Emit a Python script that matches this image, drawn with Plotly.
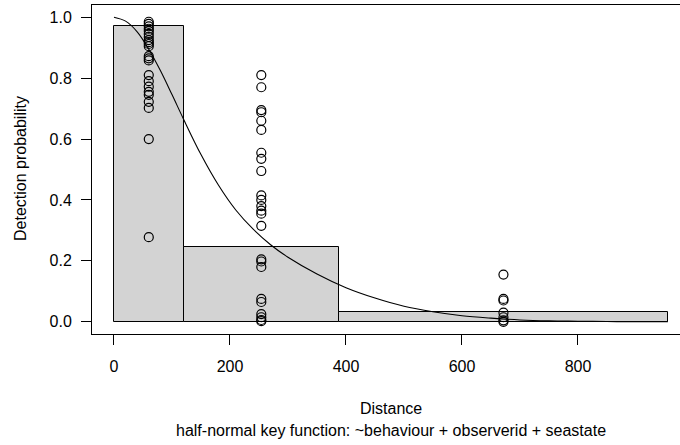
import plotly.graph_objects as go

# ---- data ----
bin_edges = [0, 120, 388, 955]
bar_heights = [0.97, 0.246, 0.033]

p_bin1 = [0.985, 0.978, 0.97, 0.962, 0.955, 0.945, 0.935, 0.925, 0.918, 0.912, 0.905,
          0.872, 0.865, 0.858, 0.81, 0.79, 0.772, 0.755, 0.745, 0.722, 0.702, 0.6, 0.278]
p_bin2 = [0.81, 0.77, 0.695, 0.688, 0.66, 0.63, 0.555, 0.535, 0.495, 0.415, 0.40,
          0.38, 0.365, 0.355, 0.315, 0.205, 0.198, 0.18, 0.075, 0.065, 0.025, 0.015,
          0.006, 0.002]
p_bin3 = [0.155, 0.075, 0.07, 0.03, 0.015, 0.005, 0.0]

curve_x = [0, 20, 40, 60, 80, 100, 120, 150, 180, 210, 240, 270, 300, 350, 400,
           450, 500, 550, 600, 650, 700, 750, 800, 850, 900, 955]
curve_g = [1.0, 0.987, 0.952, 0.895, 0.825, 0.746, 0.665, 0.549, 0.449, 0.367, 0.304,
           0.253, 0.212, 0.157, 0.112, 0.078, 0.051, 0.033, 0.020, 0.012, 0.006,
           0.003, 0.002, 0.001, 0.0004, 0.0002]

x_ticks = [0, 200, 400, 600, 800]
y_ticks = [0.0, 0.2, 0.4, 0.6, 0.8, 1.0]
x_title = "Distance"
sub_title = "half-normal key function: ~behaviour + observerid + seastate"
y_title = "Detection probability"

# ---- derived ----
mids = [(a + b) / 2 for a, b in zip(bin_edges[:-1], bin_edges[1:])]
widths = [b - a for a, b in zip(bin_edges[:-1], bin_edges[1:])]

FONT = "Liberation Sans, Arial, Helvetica, sans-serif"

fig = go.Figure()
fig.add_trace(go.Bar(x=mids, y=bar_heights, width=widths,
                     marker=dict(color="#D3D3D3", line=dict(color="black", width=1)),
                     showlegend=False, hoverinfo="skip"))

for mid, vals in zip(mids, [p_bin1, p_bin2, p_bin3]):
    fig.add_trace(go.Scatter(x=[mid] * len(vals), y=vals, mode="markers",
                             marker=dict(symbol="circle-open", size=9, color="black",
                                         line=dict(width=1.2, color="black")),
                             showlegend=False))

fig.add_trace(go.Scatter(x=curve_x, y=curve_g, mode="lines",
                         line=dict(color="black", width=1.1, shape="spline"),
                         showlegend=False))

W, H = 680, 445
L, R, T, B = 92, 0, 5, 111
fig.update_layout(
    width=W, height=H,
    margin=dict(l=L, r=R, t=T, b=B),
    plot_bgcolor="white", paper_bgcolor="white",
    font=dict(family=FONT, size=16, color="black"),
    bargap=0,
    xaxis=dict(range=[-37.9, 975.9], tickvals=x_ticks, ticks="outside", ticklen=10,
               tickcolor="black", tickwidth=1, showline=True, mirror=True,
               linecolor="black", linewidth=1, showgrid=False, zeroline=False,
               ticklabelstandoff=8, tickfont=dict(size=16)),
    yaxis=dict(range=[-0.04, 1.04], tickvals=y_ticks, tickformat=".1f", ticks="outside",
               ticklen=10, tickcolor="black", tickwidth=1, showline=True, mirror=False,
               linecolor="black", linewidth=1, showgrid=False, zeroline=False,
               ticklabelstandoff=6, tickfont=dict(size=16)),
)

plot_w = W - L - R
def px_to_paper_x(px):
    return (px - L) / plot_w
plot_h = H - T - B
def px_to_paper_y(py):
    return (H - B - py) / plot_h

cx = px_to_paper_x(391)
fig.add_annotation(text=x_title, x=cx, y=px_to_paper_y(408), xref="paper", yref="paper",
                   showarrow=False, xanchor="center", yanchor="middle", font=dict(size=16))
fig.add_annotation(text=sub_title, x=cx, y=px_to_paper_y(430), xref="paper", yref="paper",
                   showarrow=False, xanchor="center", yanchor="middle", font=dict(size=16))
fig.add_annotation(text=y_title, x=px_to_paper_x(20), y=px_to_paper_y(169), xref="paper",
                   yref="paper", showarrow=False, xanchor="center", yanchor="middle",
                   textangle=-90, font=dict(size=16))

fig.write_html("out.html")
